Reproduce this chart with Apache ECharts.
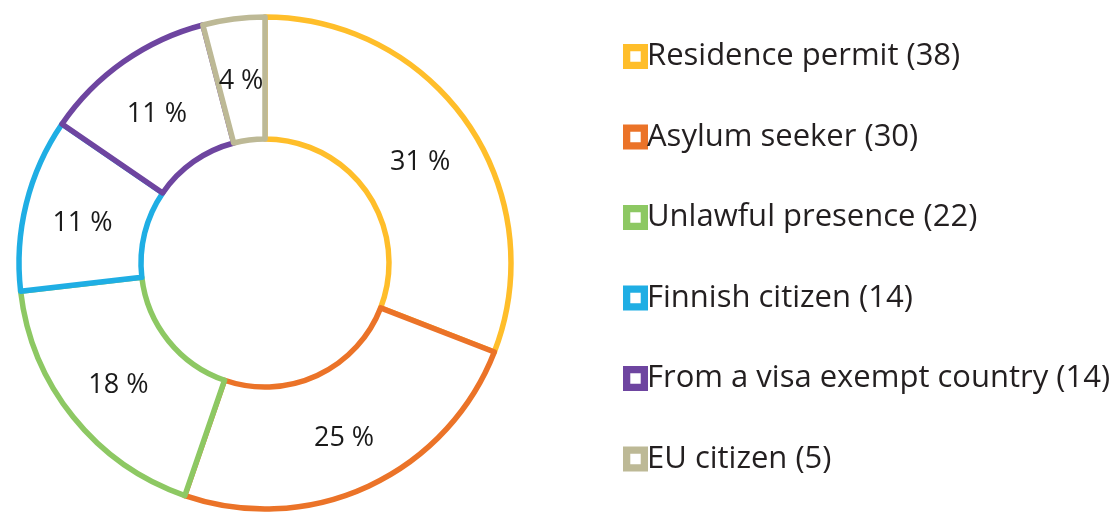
<!DOCTYPE html>
<html>
<head>
<meta charset="utf-8">
<script src="https://cdn.jsdelivr.net/npm/echarts@6/dist/echarts.min.js"></script>
<style>
  html, body { margin: 0; padding: 0; background: #fff; }
  #chart { width: 1117px; height: 514px; }
</style>
</head>
<body>
<div id="chart"></div>
<script>
// Residence status categories and counts
const categories = [
  'Residence permit',
  'Asylum seeker',
  'Unlawful presence',
  'Finnish citizen',
  'From a visa exempt country',
  'EU citizen'
];
const counts = [38, 30, 22, 14, 14, 5];
const colors = ['#FFBE2A', '#EB7328', '#8DC863', '#1FAEE4', '#6E45A0', '#BDB996'];

const FONT = '"Open Sans", "DejaVu Sans", sans-serif';

// Square legend marker with a white hole in the middle
const legendIcon = 'path://M0,0H24V24H0Z M7,7V17H17V7Z';

const pieData = categories.map((name, i) => ({
  name: name,
  value: counts[i],
  itemStyle: { color: '#ffffff', borderColor: colors[i], borderWidth: 5.5 }
}));

const legendData = categories.map((name, i) => ({
  name: name,
  icon: legendIcon,
  itemStyle: { color: colors[i], borderWidth: 0 }
}));

const chart = echarts.init(document.getElementById('chart'), null, { renderer: 'canvas' });
chart.setOption({
  animation: false,
  backgroundColor: '#ffffff',
  legend: {
    orient: 'vertical',
    left: 618,
    top: 36,
    itemWidth: 25,
    itemHeight: 25,
    itemGap: 49.5,
    selectedMode: false,
    data: legendData,
    formatter: function (name) {
      const i = categories.indexOf(name);
      return name + ' (' + counts[i] + ')';
    },
    textStyle: {
      fontFamily: FONT,
      fontSize: 31,
      color: '#231F20',
      padding: [0, 0, 0, -6]
    }
  },
  series: [{
    type: 'pie',
    center: [265, 263],
    radius: [124, 246],
    startAngle: 90,
    clockwise: true,
    percentPrecision: 0,
    avoidLabelOverlap: false,
    silent: true,
    label: {
      show: true,
      position: 'inside',
      formatter: '{d} %',
      fontFamily: FONT,
      fontSize: 27,
      color: '#1A1A1A',
      textBorderWidth: 0,
      offset: [0, 5]
    },
    labelLine: { show: false },
    emphasis: { disabled: true },
    data: pieData
  }]
});
</script>
</body>
</html>
